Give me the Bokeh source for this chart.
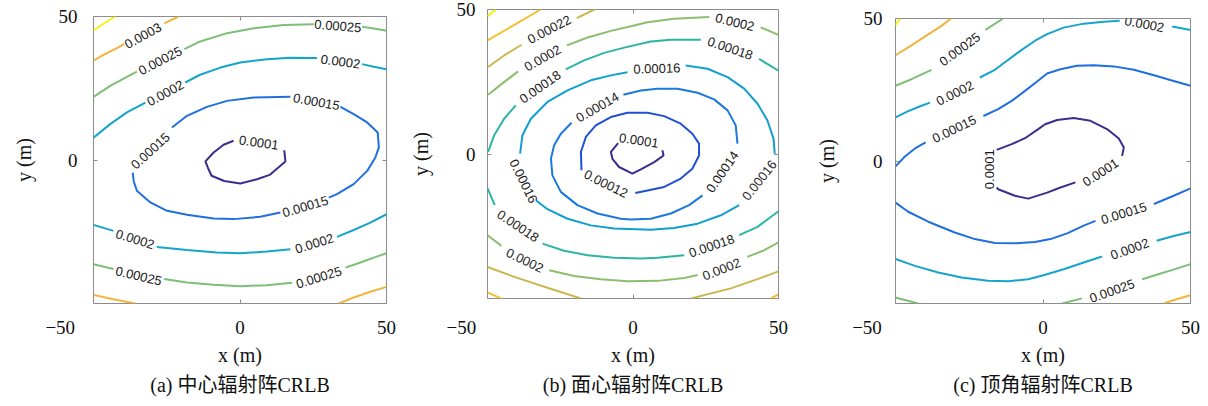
import math
import numpy as np
from bokeh.plotting import figure
from bokeh.layouts import row
from bokeh.models import FixedTicker, LinearAxis, Range1d, ColumnDataSource, Title
from bokeh.core.properties import value
from bokeh.embed import file_html
from bokeh.resources import INLINE

N = float("nan")

# ---------------- panel (a) : contour polylines (x, y in metres), NaN = label gap ----------------
a1_x = [-2.2, -5.6, -9.0, -11.8, -11.0, -9.7, -5.4, 0.1, 5.8, 10.1, 15.5, 15.1]
a1_y = [6.7, 5.3, 2.6, -0.5, -2.6, -5.5, -7.3, -8.2, -6.7, -5.2, -0.5, 3.4]
a2_x = [17.2, 4.7, -4.4, -11.3, -18.1, -23.2, N,
        -36.6, -36.3, -35.2, -30.6, -24.9, -18.1, -9.0, -2.2, 6.9, 13.8, N,
        30.3, 33.1, 38.8, 43.4, 46.2, 47.4, 47.0, 43.4, 38.8, 34.3]
a2_y = [22.0, 21.8, 20.6, 18.5, 15.4, 11.3, N,
        -4.4, -7.3, -10.7, -14.8, -17.7, -19.1, -20.4, -20.6, -19.8, -18.3, N,
        -13.1, -11.9, -8.4, -3.8, 0.9, 4.4, 9.6, 13.1, 16.0, 18.5]
a3_x = [-50, -44.3, -38.6, -32.3, N, -18.7, -13.6, -6.7, 0.1, 9.2, 17.2, 26.3, N, 41.7, 45.7, 50, N,
        -50, -43.2, N, -28.4, -18.1, -7.9, 0.1, 9.2, 17.2, N, 33.1, 38.8, 44.5, 50]
a3_y = [7.8, 12.5, 16.6, 20.0, N, 27.0, 29.7, 32.2, 34.0, 35.1, 35.6, 35.5, N, 33.4, 32.5, 31.6, N,
        -22.6, -24.7, N, -30.3, -31.4, -32.2, -32.5, -31.9, -31.1, N, -26.8, -24.4, -21.8, -18.9]
a4_x = [-50, -44.3, -38.6, -35.2, N, -19.0, -13.6, -4.4, 4.7, 14.9, 25.2, N, 41.7, 45.7, 50, N,
        -50, -43.2, N, -25.9, -18.1, -9.0, 0.1, 9.2, 17.8, N, 36.0, 41.1, 45.7, 50]
a4_y = [22.0, 25.8, 29.0, 30.8, N, 38.6, 41.3, 44.2, 45.9, 47.0, 47.3, N, 46.4, 45.8, 45.0, N,
        -36.3, -38.0, N, -41.5, -42.7, -43.5, -44.0, -43.6, -42.8, N, -37.5, -35.7, -34.0, -32.5]
a5_x = [-50, -46.6, -42.0, -39.5, N, -25.9, -21.0, N, -50, -43.2, -35.8, N, 33.7, 38.8, 44.5, 50]
a5_y = [34.6, 36.6, 39.0, 40.4, N, 47.6, 50.0, N, -47.0, -48.5, -50, N, -50, -47.9, -45.9, -44.2]
a6_x = [-50, -42.6]
a6_y = [45.2, 50]

a_lab_x = [6.4, 26.1, -30.6, 22.3, -25.5, 34.3, -35.8, 25.4, -27.2, 33.4, -34.6, 26.9, -33.1]
a_lab_y = [6.1, 20.3, 3.2, -16.2, 23.3, 34.3, -27.6, -29.1, 34.6, 46.7, -40.4, -40.9, 43.3]
a_lab_t = ["0.0001", "0.00015", "0.00015", "0.00015", "0.0002", "0.0002", "0.0002", "0.0002",
           "0.00025", "0.00025", "0.00025", "0.00025", "0.0003"]
a_lab_ang = [-0.14, -0.18, 0.74, 0.29, 0.50, -0.13, -0.30, 0.30, 0.48, -0.08, -0.23, 0.30, 0.51]

# ---------------- panel (b) ----------------
b1_x = [-5.1, -7.6, -7.0, -4.8, -0.2, 2.7, 7.3, 10.5, 10.1]
b1_y = [3.8, 0.7, -1.8, -4.5, -6.8, -5.3, -2.8, -0.5, 1.3]
b2_x = [0.8, 5.0, 10.7, 16.4, 20.4, 22.7, 22.7, 20.4, 16.4, 10.7, 5.0, -1.9, -7.6, -12.8, -16.2, -17.9, -17.7]
b2_y = [-13.5, -12.6, -11.4, -8.5, -5.1, -0.5, 3.6, 7.0, 10.5, 13.1, 14.3, 14.3, 12.8, 9.9, 5.9, 0.7, -5.6]
b3_x = [-3.3, 2.7, 8.4, 15.3, 22.2, 27.9, 32.5, 35.3, 35.9, N,
        23.9, 19.3, 13.0, 6.1, -0.8, -4.2, -12.2, -19.1, -24.8, -27.7, -28.2, -27.1, -24.8, -21.1]
b3_y = [20.5, 22.0, 22.6, 22.6, 21.2, 18.9, 15.1, 9.9, 3.6, N,
        -14.3, -17.7, -20.6, -22.4, -22.7, -22.4, -20.6, -17.7, -13.1, -7.4, -1.6, 3.0, 7.0, 10.8]
b4_x = [18.1, 25.6, 32.5, 38.2, 42.8, 46.2, 48.3, 48.7, N,
        36.5, 30.2, 22.2, 14.1, 6.1, -6.5, -14.5, -22.5, -29.4, -33.4, N,
        -38.8, -38.0, -35.1, -29.4, -22.5, -14.5, -7.6, -1.9]
b4_y = [30.6, 29.5, 26.6, 22.6, 17.4, 11.6, 5.3, 0.1, N,
        -17.7, -21.2, -24.1, -25.6, -26.2, -25.8, -24.7, -22.4, -19.1, -16.0, N,
        0.1, 6.5, 12.2, 18.0, 22.0, 25.5, 27.2, 28.3]
b5_x = [-49.8, -47.7, -44.3, -40.3, N, -23.1, -16.8, -9.9, -3.0, 6.1, 13.0, 23.3, N, 43.3, 47.4, 50.0, N,
        -50, -47.5, N, -31.1, -23.7, -15.6, -6.5, 2.7, 8.4, 17.6, N, 36.5, 42.8, 50.0]
b5_y = [0.7, 6.5, 12.2, 16.8, N, 29.3, 32.4, 35.0, 36.8, 38.9, 39.5, 39.5, N, 32.9, 30.4, 28.8, N,
        -11.8, -17.7, N, -31.0, -33.5, -35.0, -35.9, -36.2, -35.9, -35.0, N, -28.1, -25.2, -19.8]
b6_x = [-49.8, -45.4, -39.5, N, -22.7, -15.6, -7.6, -0.7, 5.0, 14.1, 26.2, N, 43.9, 50.0, N,
        -50, -45.2, N, -28.8, -20.2, -11.1, -1.9, 8.4, 17.6, 22.2, N, 39.3, 45.1, 50.0]
b6_y = [20.5, 24.0, 28.6, N, 37.6, 40.3, 42.6, 44.2, 45.6, 46.8, 47.4, N, 43.8, 41.2, N,
        -28.1, -31.8, N, -40.2, -42.2, -43.3, -44.0, -43.9, -42.9, -41.9, N, -35.6, -33.3, -30.6]
b7_x = [-49.8, -44.3, -38.3, N, -19.3, -13.3, N, -50, -40.8, -29.4, -17.9, N, 19.9, 33.6, 42.8, 50]
b7_y = [30.1, 34.1, 37.8, N, 47.0, 50, N, -39.1, -42.5, -46.3, -50, N, -50, -46.5, -43.3, -40.6]
b8_x = [-50, -40.8, -31.7, N, -50, -45.4, N, 47.4, 50]
b8_y = [39.3, 44.7, 50, N, -47.9, -50, N, -50, -48.6]
b9_x = [-50, -47.1]
b9_y = [47.7, 50]

b_lab_x = [2.0, -9.3, -12.2, 30.7, 8.2, -37.6, 43.4, -31.9, 33.4, -39.5, 27.0, -31.1, 35.0, -37.2, 30.4, -28.8]
b_lab_y = [4.7, -10.3, 16.2, -6.2, 29.6, -9.4, -9.1, 23.2, 36.6, -24.9, -31.8, 33.2, 45.6, -36.8, -39.9, 43.1]
b_lab_t = ["0.0001", "0.00012", "0.00014", "0.00014", "0.00016", "0.00016", "0.00016",
           "0.00018", "0.00018", "0.00018", "0.00018", "0.0002", "0.0002", "0.0002", "0.0002", "0.00022"]
b_lab_ang = [-0.15, -0.46, 0.52, 0.97, 0.03, -1.11, 0.90, 0.61, -0.33, -0.59, 0.33, 0.52, -0.24, -0.45, 0.38, 0.48]

# ---------------- panel (c) ----------------
c1_x = [-15.7, -10.6, -6.1, -1.6, 0.7, 4.8, 10.4, 16.1, 21.7, 25.7, 27.4, 26.8, N,
        11.0, 5.9, 1.4, -5.0, -9.5, -15.2, -15.7]
c1_y = [3.9, 5.9, 8.0, 11.2, 12.9, 14.4, 15.1, 14.1, 11.2, 7.9, 4.7, 1.8, N,
        -7.5, -9.3, -11.1, -13.2, -12.2, -9.9, -9.3]
c2_x = [-50, -46.8, -43.4, -39.8, N, -20.2, -15.2, -10.6, -6.1, -2.1, 1.4, 5.9, 11.5, 17.2, 24.0, 30.8, 37.6, 44.3, 50, N,
        -50, -45.7, -38.9, -29.9, -23.1, -16.3, -9.5, -2.7, 2.5, 8.2, 13.8, 17.8, N, 37.6, 44.3, 50]
c2_y = [-1.9, 1.6, 4.4, 6.5, N, 15.8, 18.2, 21.1, 24.6, 27.8, 30.7, 32.2, 33.4, 33.6, 33.2, 32.0, 30.1, 28.1, 26.4, N,
        -14.6, -17.8, -21.3, -25.1, -27.4, -28.8, -28.9, -28.4, -27.4, -25.4, -22.7, -21.0, N, -15.1, -12.2, -9.6]
c3_x = [-50, -45.7, -41.2, -38.3, N, -21.4, -16.3, -11.8, -7.2, -2.7, 1.4, 7.0, 13.8, 20.6, 26.0, N, 43.8, 50, N,
        -50, -43.4, -35.5, -27.6, -18.6, -11.8, -5.0, 0.2, 7.0, 13.8, 20.0, N, 38.5, 44.3, 50]
c3_y = [15.3, 17.5, 19.4, 20.5, N, 29.3, 32.0, 35.5, 39.0, 42.2, 44.5, 46.8, 48.2, 48.9, 49.2, N, 47.2, 46.0, N,
        -34.4, -36.8, -39.1, -40.9, -42.0, -42.2, -41.5, -40.1, -38.0, -35.6, -33.5, N, -28.0, -26.3, -24.9]
c4_x = [-50, -44.6, -37.8, N, -19.5, -13.5, N, -50, -42.3, N, 6.5, 13.2, N, 33.6, 42.1, 50]
c4_y = [26.4, 28.7, 32.0, N, 46.0, 50, N, -47.9, -50, N, -50, -48.2, N, -41.5, -38.8, -36.2]
c5_x = [-50, -44.6, -38.9, -34.4, -31.2, N, 41.0, 45.5, 50]
c5_y = [37.1, 40.6, 44.4, 47.4, 50, N, -50, -48.4, -47.1]
c6_x = [-50, -48.4]
c6_y = [47.7, 50]

c_lab_x = [-18.0, 19.5, -30.1, 27.4, -29.9, 34.4, 29.4, -28.2, 23.4]
c_lab_y = [-2.9, -4.0, 11.2, -18.3, 23.8, 48.0, -30.9, 39.2, -45.6]
c_lab_t = ["0.0001", "0.0001", "0.00015", "0.00015", "0.0002", "0.0002", "0.0002", "0.00025", "0.00025"]
c_lab_ang = [math.pi / 2, 0.58, 0.45, 0.30, 0.46, -0.18, 0.35, 0.63, 0.34]

# tick labels / titles
x_ticks = [-50, 0, 50]
y_ticks = [0, 50]
minus50 = "\u221250"
x_title = "x (m)"
y_title = "y (m)"
captions = ["(a) 中心辐射阵CRLB", "(b) 面心辐射阵CRLB", "(c) 顶角辐射阵CRLB"]

# ---------------- styles ----------------
a_colors = ["#3b2d8e", "#1f6fdf", "#15a5cb", "#7dbf77", "#f1b53e", "#f7f213"]
b_colors = ["#3b2d8e", "#1f50d6", "#1a78de", "#109fcf", "#2cb5a6", "#8bbf6d", "#cdb64e", "#f4c034", "#f6ef12"]
c_colors = a_colors
BOX = "#8c8c8c"
SERIF = "Liberation Serif"
CAPFONT = "Liberation Serif, Noto Sans CJK SC"


def build(curves, colors, lab_x, lab_y, lab_t, lab_a, caption, W, L, R, T, B, ystd, ytx, ylab_sd, nb):
    p = figure(width=W, height=406, x_range=Range1d(-50, 50), y_range=Range1d(-50, 50),
               output_backend="svg", toolbar_location=None,
               x_axis_location=None, y_axis_location=None,
               min_border_left=L, min_border_right=R, min_border_top=T, min_border_bottom=B)
    p.frame_align = False
    p.grid.visible = False
    p.outline_line_color = BOX
    p.outline_line_width = 1
    p.background_fill_color = "white"
    p.border_fill_color = "white"

    def style(ax):
        ax.axis_line_color = None
        ax.major_tick_in = 4
        ax.major_tick_out = 0
        ax.major_tick_line_color = BOX
        ax.minor_tick_line_color = None
        ax.major_label_text_font = SERIF
        ax.major_label_text_color = "#111111"
        ax.major_label_text_font_size = "19px"
        ax.axis_label_text_font = SERIF
        ax.axis_label_text_font_size = "20px"
        ax.axis_label_text_font_style = "normal"
        ax.axis_label_text_color = "#111111"

    # bottom axis; the "-50" label sits left of the corner, padded with no-break spaces
    xb = LinearAxis(ticker=FixedTicker(ticks=x_ticks, minor_ticks=[]), axis_label=x_title)
    style(xb)
    xb.major_label_standoff = ytx
    xb.axis_label_standoff = 3
    xb.major_label_overrides = {-50: minus50 + "\u00a0" * nb}
    yl = LinearAxis(ticker=FixedTicker(ticks=y_ticks, minor_ticks=[]), axis_label=y_title)
    style(yl)
    yl.major_label_standoff = ystd
    yl.axis_label_standoff = ylab_sd
    p.add_layout(xb, "below")
    p.add_layout(yl, "left")
    for loc in ("above", "right"):
        ax = LinearAxis(ticker=FixedTicker(ticks=[0], minor_ticks=[]))
        style(ax)
        ax.major_label_text_font_size = "1px"
        ax.major_label_text_color = None
        ax.major_label_standoff = 0
        ax.major_label_overrides = {0: ""}
        p.add_layout(ax, loc)

    for (xs, ys), c in zip(curves, colors):
        p.line(x=np.array(xs, dtype=float), y=np.array(ys, dtype=float), line_color=c, line_width=2)

    src = ColumnDataSource(dict(x=lab_x, y=lab_y, text=lab_t, angle=lab_a))
    p.text(x="x", y="y", text="text", angle="angle", source=src,
           text_font=value("Liberation Sans"), text_font_size=value("13px"),
           text_color="#1a1a1a", text_align="center", text_baseline="middle")

    p.add_layout(Title(text=caption, align="center", text_font=CAPFONT, text_font_size="20px",
                       text_font_style="normal", text_color="#111111", standoff=6), "below")
    return p


pa = build([(a1_x, a1_y), (a2_x, a2_y), (a3_x, a3_y), (a4_x, a4_y), (a5_x, a5_y), (a6_x, a6_y)],
           a_colors, a_lab_x, a_lab_y, a_lab_t, a_lab_ang, captions[0],
           W=400, L=93, R=14, T=16, B=103, ystd=16, ytx=13, ylab_sd=21, nb=14)
pb = build([(b1_x, b1_y), (b2_x, b2_y), (b3_x, b3_y), (b4_x, b4_y), (b5_x, b5_y), (b6_x, b6_y),
            (b7_x, b7_y), (b8_x, b8_y), (b9_x, b9_y)],
           b_colors, b_lab_x, b_lab_y, b_lab_t, b_lab_ang, captions[1],
           W=400, L=87, R=22, T=9, B=108, ystd=12, ytx=18, ylab_sd=22, nb=11)
pc = build([(c1_x, c1_y), (c2_x, c2_y), (c3_x, c3_y), (c4_x, c4_y), (c5_x, c5_y), (c6_x, c6_y)],
           c_colors, c_lab_x, c_lab_y, c_lab_t, c_lab_ang, captions[2],
           W=408, L=95, R=18, T=18, B=103, ystd=13, ytx=13, ylab_sd=23, nb=12)

layout = row(pa, pb, pc)
open("out.html", "w").write(file_html(layout, INLINE))
